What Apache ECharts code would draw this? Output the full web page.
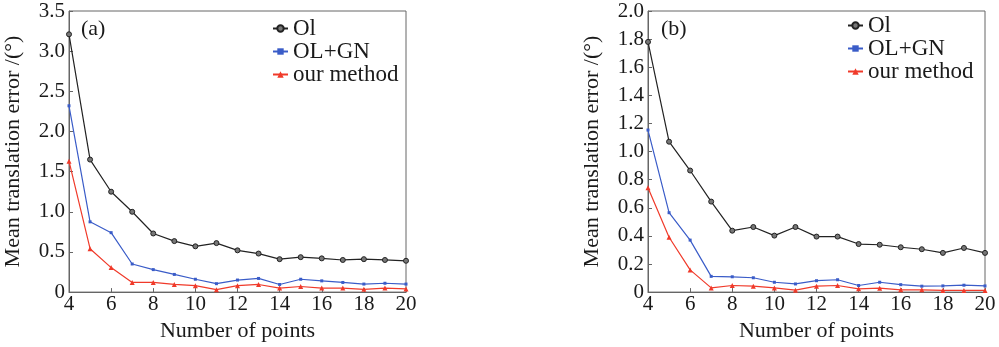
<!DOCTYPE html>
<html><head><meta charset="utf-8">
<script src="https://cdn.jsdelivr.net/npm/echarts@6/dist/echarts.min.js"></script>
<style>html,body{margin:0;padding:0;background:#fff}#c{width:999px;height:347px}</style>
</head><body><div id="c"></div>
<script>
const points = [4,5,6,7,8,9,10,11,12,13,14,15,16,17,18,19,20];
const seriesNames = ['Ol','OL+GN','our method'];
// (a)
const a_Ol   = [3.21,1.65,1.25,1.00,0.73,0.635,0.57,0.61,0.52,0.48,0.41,0.435,0.42,0.40,0.41,0.40,0.39];
const a_OLGN = [2.32,0.875,0.74,0.35,0.28,0.22,0.16,0.105,0.15,0.17,0.095,0.16,0.14,0.12,0.10,0.11,0.10];
const a_our  = [1.63,0.54,0.305,0.12,0.12,0.095,0.08,0.03,0.08,0.095,0.05,0.07,0.05,0.05,0.035,0.05,0.04];
// (b)
const b_Ol   = [1.78,1.07,0.865,0.644,0.437,0.463,0.402,0.463,0.395,0.395,0.342,0.337,0.319,0.305,0.279,0.314,0.279];
const b_OLGN = [1.153,0.565,0.37,0.112,0.109,0.102,0.07,0.058,0.081,0.088,0.047,0.07,0.053,0.042,0.044,0.049,0.044];
const b_our  = [0.742,0.39,0.158,0.03,0.047,0.042,0.03,0.014,0.042,0.047,0.023,0.028,0.016,0.016,0.012,0.012,0.012];
const panelLabels = ['(a)','(b)'];
const xName = 'Number of points';
const yName = 'Mean translation error /(°)';

const FONT = "'Liberation Serif', 'Times New Roman', serif";
const TXT = '#1a1a1a';
const AX = '#666';
const colors = ['#222222','#3a5cc8','#f03a2a'];
const symbols = ['circle','rect','triangle'];
const symSizes = [5,3,5];

function pair(xs, ys){ return xs.map((x,i)=>[x, ys[i]]); }

const grids = [
  {left:69, top:11, width:337, height:287, show:true, borderColor:AX, borderWidth:1},
  {left:648, top:11, width:337, height:287, show:true, borderColor:AX, borderWidth:1}
];
const xAxes = [0,1].map(g=>({
  type:'value', gridIndex:g, min:4, max:20, interval:2,
  name:xName, nameLocation:'middle', nameGap:14,
  nameTextStyle:{fontFamily:FONT, fontSize:22, color:TXT},
  axisLine:{lineStyle:{color:AX, width:1}},
  axisTick:{inside:true, length:4, lineStyle:{color:AX}},
  axisLabel:{fontFamily:FONT, fontSize:21, color:TXT, margin:2},
  splitLine:{show:false}
}));
const yMax = [3.5, 2.0], yInt = [0.5, 0.2];
const yAxes = [0,1].map(g=>({
  type:'value', gridIndex:g, min:0, max:yMax[g], interval:yInt[g],
  name:yName, nameLocation:'middle', nameGap:45,
  nameTextStyle:{fontFamily:FONT, fontSize:22, color:TXT},
  axisLine:{show:true, lineStyle:{color:AX, width:1}},
  axisTick:{show:true, inside:true, length:4, lineStyle:{color:AX}},
  axisLabel:{fontFamily:FONT, fontSize:21, color:TXT, margin:4,
    formatter:v=> v===0 ? '0' : v.toFixed(1)},
  splitLine:{show:false}
}));

const data = [[a_Ol,a_OLGN,a_our],[b_Ol,b_OLGN,b_our]];
const series = [];
[0,1].forEach(g=>{
  seriesNames.forEach((n,k)=>{
    series.push({
      type:'line', name:n, xAxisIndex:g, yAxisIndex:g,
      data: pair(points, data[g][k]),
      symbol:symbols[k], symbolSize:symSizes[k], showSymbol:true,
      lineStyle:{color:colors[k], width:1.2},
      itemStyle:{color:colors[k], borderColor:colors[k], borderWidth: k===0?1:0},
      animation:false, z: 3-k
    });
  });
});
series[0].itemStyle.color = '#777'; series[3].itemStyle.color = '#777';

const legends = [
  {left:272, top:17},
  {left:847, top:14}
].map(p=>({
  left:p.left, top:p.top, orient:'vertical', itemGap:0, itemWidth:15, itemHeight:8,
  padding:0,
  textStyle:{fontFamily:FONT, fontSize:23, color:TXT, lineHeight:22},
  data:seriesNames, selectedMode:false
}));

const titles = [
  {text:panelLabels[0], left:81, top:18},
  {text:panelLabels[1], left:661, top:18}
].map(t=>({text:t.text, left:t.left, top:t.top, padding:0,
  textStyle:{fontFamily:FONT, fontSize:22, fontWeight:'normal', color:TXT}}));

const chart = echarts.init(document.getElementById('c'), null, {renderer:'canvas'});
chart.setOption({
  animation:false, backgroundColor:'#fff',
  title:titles, legend:legends, grid:grids, xAxis:xAxes, yAxis:yAxes, series:series
});
</script></body></html>
